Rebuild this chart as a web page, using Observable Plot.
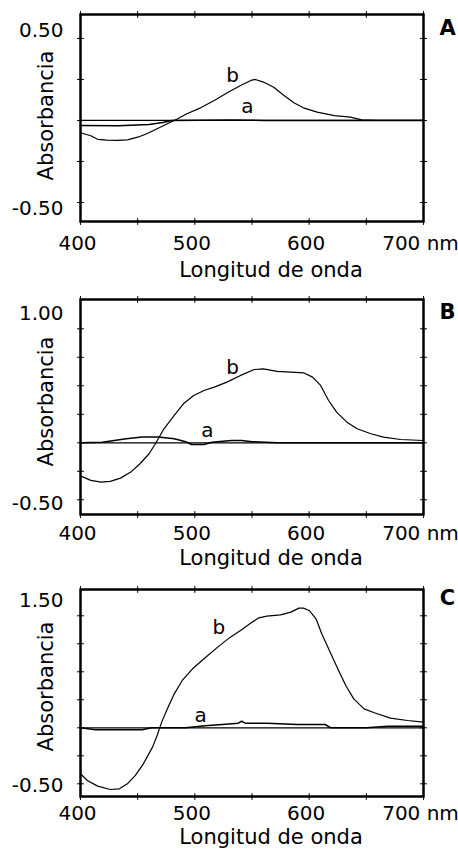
<!DOCTYPE html>
<html><head><meta charset="utf-8">
<script src="https://cdn.jsdelivr.net/npm/d3@7"></script>
<script src="https://cdn.jsdelivr.net/npm/@observablehq/plot@0.6"></script>
<style>body{margin:0;background:#fff;} svg{display:block;}</style>
</head><body><div id="chart"></div>
<script>
// ---- Data ----
const xTicks = [400, 450, 500, 550, 600, 650, 700];
const xLabels = [400, 500, 600, 700];

// Panel A
const nmA_b = [400,409,415,423,432,441,450,458,467,476,485,493,505,517,528,540,549,553,560,569,578,587,595,607,622,636,646,660,700];
const absA_b = [-0.075,-0.093,-0.115,-0.12,-0.122,-0.118,-0.102,-0.081,-0.051,-0.02,0.01,0.041,0.077,0.122,0.167,0.213,0.244,0.25,0.234,0.203,0.152,0.106,0.077,0.051,0.03,0.02,0.004,0,0];
const nmA_a = [400,433,460,472,480,530,560,600,700];
const absA_a = [-0.03,-0.033,-0.025,-0.012,0,0.003,0,0,0];
const yTicksA = [-0.5,-0.25,0,0.25,0.5];
const yLabelsA = [0.5, -0.5];

// Panel B
const nmB_b = [400,409,418,426,435,444,452,460,466,473,482,490,499,508,517,528,540,552,560,572,584,595,603,610,617,624,633,642,654,665,680,700];
const absB_b = [-0.29,-0.33,-0.345,-0.339,-0.31,-0.257,-0.184,-0.096,0,0.123,0.24,0.342,0.415,0.459,0.488,0.532,0.591,0.643,0.649,0.626,0.62,0.614,0.576,0.503,0.371,0.269,0.181,0.123,0.079,0.05,0.029,0.02];
const nmB_a = [400,419,440,454,468,482,492,497,508,515,532,541,550,572,700];
const absB_a = [0,0.005,0.035,0.05,0.05,0.035,0.01,-0.015,-0.015,0.005,0.02,0.02,0.01,0,0];
const yTicksB = [-0.5,-0.25,0,0.25,0.5,0.75,1.0];
const yLabelsB = [1.0, -0.5];

// Panel C
const nmC_b = [400,406,415,426,434,441,448,455,463,467,471,476,482,489,498,508,520,531,540,549,556,563,575,584,591,595,600,606,611,617,625,632,639,648,657,671,686,700];
const absC_b = [-0.616,-0.705,-0.781,-0.826,-0.817,-0.75,-0.638,-0.482,-0.259,-0.103,0.076,0.254,0.455,0.634,0.79,0.924,1.08,1.214,1.304,1.402,1.473,1.496,1.513,1.549,1.603,1.603,1.571,1.46,1.259,1.058,0.79,0.567,0.388,0.254,0.201,0.129,0.098,0.076];
const nmC_a = [400,413,454,462,492,509,524,538,541,544,563,590,614,619,650,669,700];
const absC_a = [0,-0.027,-0.027,0,0,0.027,0.044,0.062,0.088,0.062,0.062,0.044,0.044,0,0,0.02,0.02];
const yTicksC = [-0.75,-0.375,0,0.375,0.75,1.125,1.5];
const yLabelsC = [1.5, -0.5];

const panelLetters = ["A", "B", "C"];
const curveNames = ["a", "b"];
const labelPosA = {a: [546, 0.085], b: [533, 0.274]};
const labelPosB = {a: [511, 0.105], b: [533, 0.658]};
const labelPosC = {a: [505, 0.165], b: [521, 1.347]};

// ---- Drawing ----
const lineShape = {draw(context, l) { context.moveTo(0, 0); context.lineTo(0, -l); }};
const rows = (nm, ab) => nm.map((x, i) => ({nm: x, abs: ab[i]}));
const fmtY = d => d.toFixed(2);
const fmtX = d => d === 700 ? "700 nm" : String(d);

function panel(c) {
  const labels = curveNames.map(n => ({name: n, nm: c.labelPos[n][0], abs: c.labelPos[n][1]}));
  return Plot.plot({
    width: 458, height: c.height,
    marginLeft: 80, marginRight: 35, marginTop: 14, marginBottom: c.marginBottom,
    style: {fontFamily: "DejaVu Sans", fontSize: "20px", color: "black", background: "white", overflow: "visible"},
    x: {domain: [400, 700], axis: null},
    y: {domain: c.yDomain, axis: null},
    marks: [
      Plot.ruleY([0], {stroke: "black", strokeWidth: 1.3}),
      Plot.line(rows(c.nmA, c.absA), {x: "nm", y: "abs", stroke: "black", strokeWidth: 1.5}),
      Plot.line(rows(c.nmB, c.absB), {x: "nm", y: "abs", stroke: "black", strokeWidth: 1.2}),
      Plot.frame({stroke: "black", strokeWidth: 2.5}),
      // frame ticks crossing the border
      Plot.vector(xTicks, {x: d => d, frameAnchor: "bottom", length: 6, anchor: "middle", shape: lineShape, stroke: "black", strokeWidth: 1}),
      Plot.vector(xTicks, {x: d => d, frameAnchor: "top", length: 6, anchor: "middle", shape: lineShape, stroke: "black", strokeWidth: 1}),
      Plot.vector(c.yTicks, {y: d => d, frameAnchor: "left", rotate: 90, length: 6, anchor: "middle", shape: lineShape, stroke: "black", strokeWidth: 1}),
      Plot.vector(c.yTicks, {y: d => d, frameAnchor: "right", rotate: 90, length: 6, anchor: "middle", shape: lineShape, stroke: "black", strokeWidth: 1}),
      // tick labels
      Plot.text(xLabels, {x: d => d, frameAnchor: "bottom", text: fmtX, lineAnchor: "top", dy: c.xPad, dx: -3, fontSize: 20, fill: "black"}),
      Plot.text([c.yLabels[0]], {y: d => d, frameAnchor: "left", text: fmtY, textAnchor: "end", dx: -17, dy: c.yDyTop, fontSize: 20, fill: "black"}),
      Plot.text([c.yLabels[1]], {y: d => d, frameAnchor: "left", text: fmtY, textAnchor: "end", dx: -17, dy: c.yDyBottom, fontSize: 20, fill: "black"}),
      // axis titles
      Plot.text(["Longitud de onda"], {frameAnchor: "bottom", text: d => d, lineAnchor: "top", textAnchor: "middle", dx: 19, dy: c.titlePad, fontSize: 21, fill: "black"}),
      Plot.text(["Absorbancia"], {frameAnchor: "left", text: d => d, rotate: -90, textAnchor: "middle", lineAnchor: "middle", dx: -34.5, dy: c.absDy, fontSize: 21, fill: "black"}),
      // curve labels
      Plot.text(labels, {x: "nm", y: "abs", text: "name", fontSize: 20, fill: "black"}),
      // panel letter
      Plot.text([c.letter], {frameAnchor: "top-right", text: d => d, textAnchor: "middle", lineAnchor: "middle", dx: 24, dy: c.letterDy, fontSize: 21, fontWeight: "bold", fill: "black"})
    ]
  });
}

const root = document.getElementById("chart");
root.append(panel({
  height: 285, marginBottom: 64, yDomain: [-0.616, 0.646], yTicks: yTicksA, yLabels: yLabelsA,
  yDyTop: -8, yDyBottom: 6, xPad: 14, titlePad: 41, absDy: -2.5, letterDy: 14,
  nmA: nmA_a, absA: absA_a, nmB: nmA_b, absB: absA_b, labelPos: labelPosA, letter: panelLetters[0]
}));
root.append(panel({
  height: 290, marginBottom: 61, yDomain: [-0.629, 1.257], yTicks: yTicksB, yLabels: yLabelsB,
  yDyTop: -15, yDyBottom: 4, xPad: 11, titlePad: 36, absDy: -5.5, letterDy: 13,
  nmA: nmB_a, absA: absB_a, nmB: nmB_b, absB: absB_b, labelPos: labelPosB, letter: panelLetters[1]
}));
root.append(panel({
  height: 275, marginBottom: 54, yDomain: [-0.92, 1.852], yTicks: yTicksC, yLabels: yLabelsC,
  yDyTop: -15, yDyBottom: 20, xPad: 9, titlePad: 33, absDy: -6.5, letterDy: 9,
  nmA: nmC_a, absA: absC_a, nmB: nmC_b, absB: absC_b, labelPos: labelPosC, letter: panelLetters[2]
}));
</script>
</body></html>
